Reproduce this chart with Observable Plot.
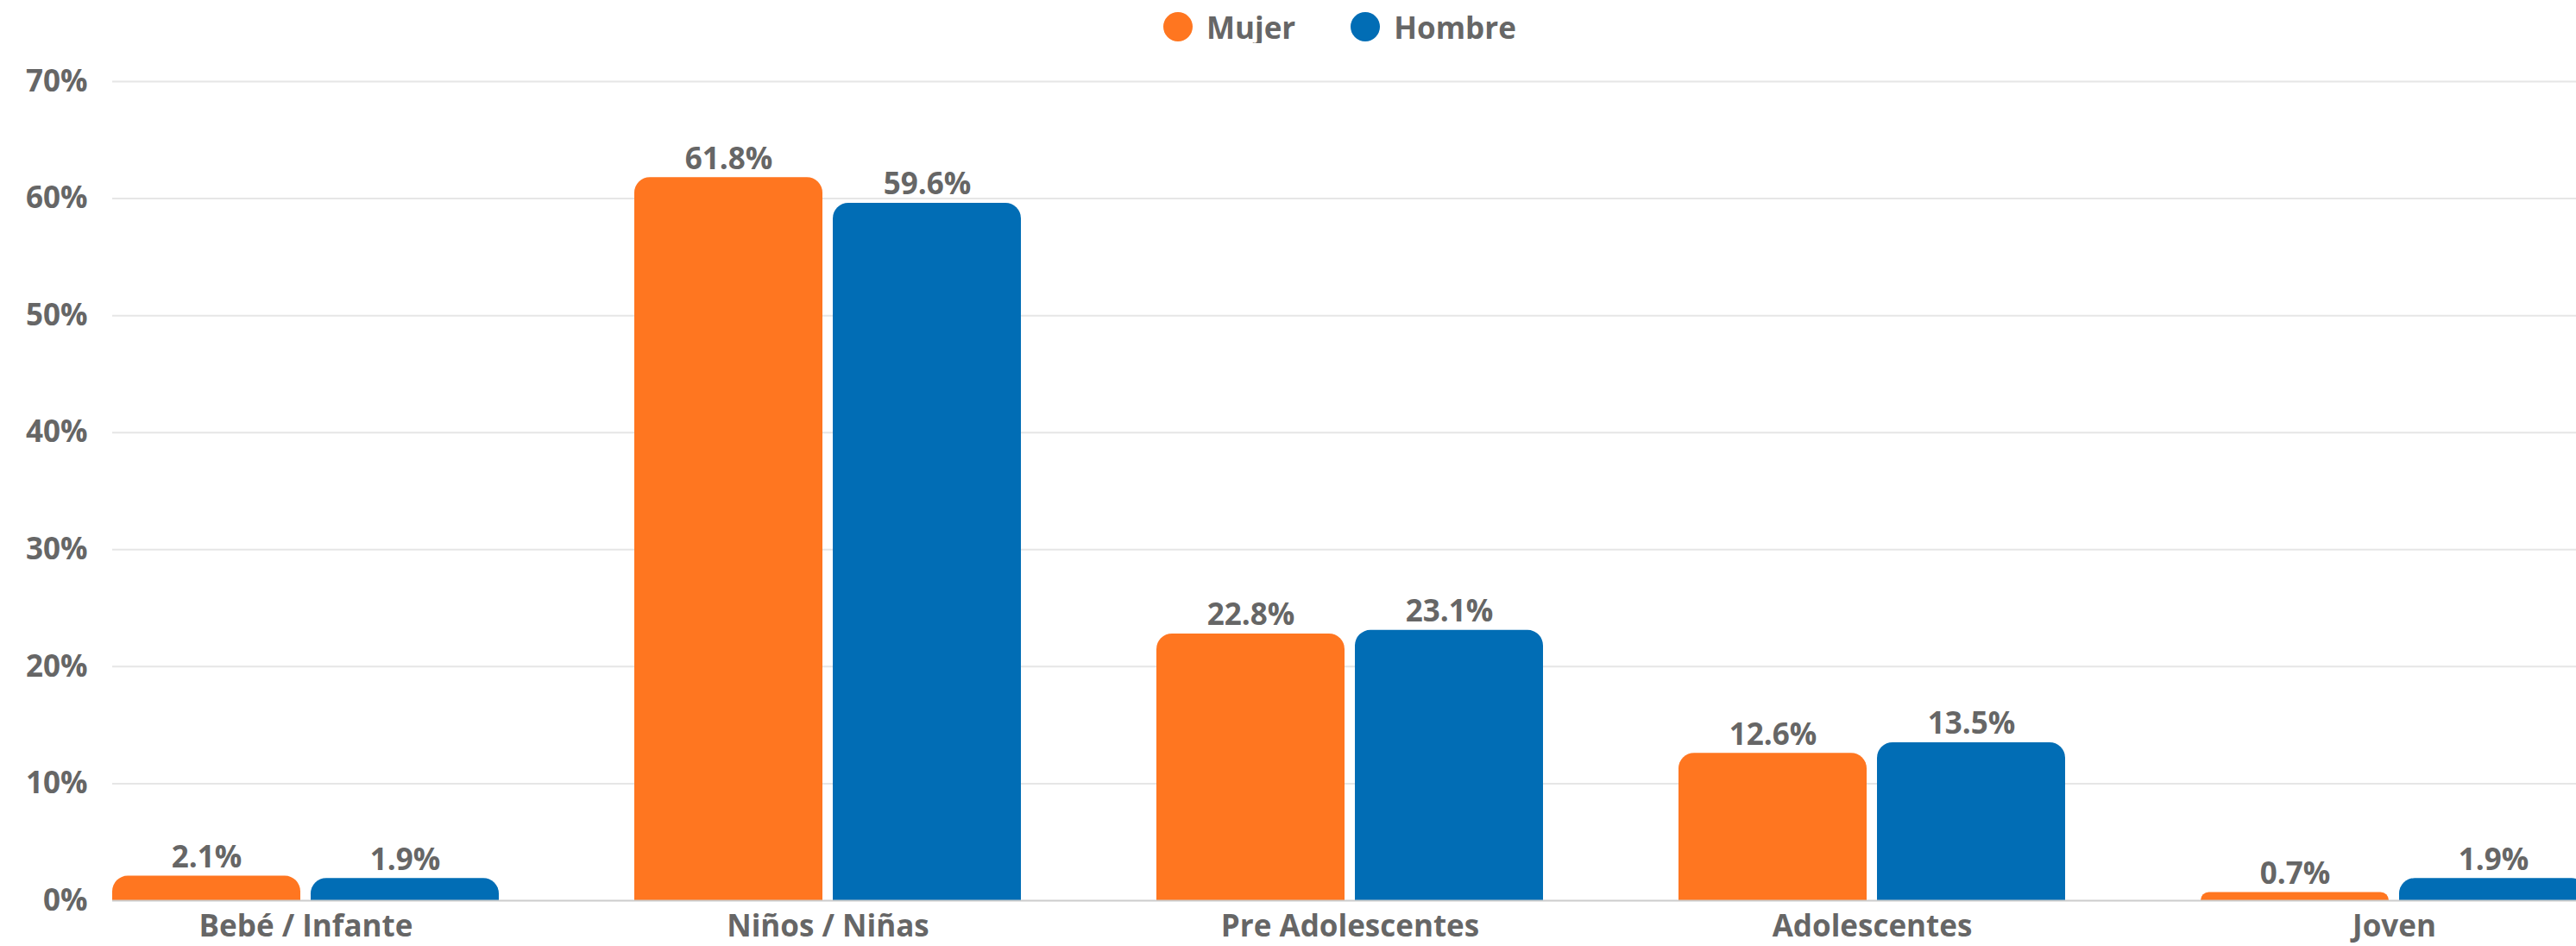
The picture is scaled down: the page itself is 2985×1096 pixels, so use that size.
<!DOCTYPE html>
<html><head><meta charset="utf-8">
<script src="https://cdn.jsdelivr.net/npm/d3@7"></script>
<script src="https://cdn.jsdelivr.net/npm/@observablehq/plot@0.6"></script>
<style>
html,body{margin:0;padding:0;background:#fff;overflow:hidden;}
body{width:2985px;height:1096px;position:relative;font-family:"Open Sans",sans-serif;}
#legend{position:absolute;top:13px;left:1348px;display:flex;align-items:center;height:36px;}
.item{display:flex;align-items:center;margin-right:64px;font-weight:700;font-size:35px;color:#666;}
.dot{width:34px;height:34px;border-radius:50%;margin-right:16px;}
#chart{position:absolute;top:50px;left:0;}
#chart svg{overflow:visible;}
</style></head>
<body><div id="legend"></div><div id="chart"></div>
<script>
const categories = ["Bebé / Infante", "Niños / Niñas", "Pre Adolescentes", "Adolescentes", "Joven"];
const series = ["Mujer", "Hombre"];
const mujer = [2.1, 61.8, 22.8, 12.6, 0.7];
const hombre = [1.9, 59.6, 23.1, 13.5, 1.9];
const colors = ["#FF7620", "#016DB5"];
const yTicks = [0, 10, 20, 30, 40, 50, 60, 70];

const mujerData = categories.map((c, i) => ({category: c, sex: series[0], value: mujer[i]}));
const hombreData = categories.map((c, i) => ({category: c, sex: series[1], value: hombre[i]}));

const legend = document.getElementById("legend");
series.forEach((s, i) => {
  const it = document.createElement("div");
  it.className = "item";
  const dot = document.createElement("div");
  dot.className = "dot";
  dot.style.background = colors[i];
  it.appendChild(dot);
  it.appendChild(document.createTextNode(s));
  legend.appendChild(it);
});

const barW = 218, half = 115;
const label = d => d.value.toFixed(1) + "%";
const plot = Plot.plot({
  width: 2985, height: 1046,
  marginLeft: 130, marginRight: 0, marginTop: 44, marginBottom: 53,
  style: {fontFamily: "Open Sans", fontWeight: 700, fontSize: "34px", color: "#666", background: "#fff", overflow: "visible"},
  x: {domain: categories, range: [130, 2998], paddingInner: 157 / 605, paddingOuter: 0, label: null},
  y: {domain: [0, 70], label: null},
  color: {domain: series, range: colors},
  marks: [
    Plot.ruleY(yTicks.slice(1), {stroke: "#e6e6e6", strokeWidth: 2}),
    Plot.barY(mujerData, {x: "category", y: "value", fill: "sex", insetRight: 448 - barW, ry1: 18}),
    Plot.barY(hombreData, {x: "category", y: "value", fill: "sex", insetLeft: 448 - barW, ry1: 18}),
    Plot.ruleY([0], {stroke: "#cccccc", strokeWidth: 2}),
    Plot.text(mujerData, {x: "category", y: "value", text: label, dx: -half, lineAnchor: "bottom", dy: -10, fill: "#666", fontSize: 35, fontWeight: 700}),
    Plot.text(hombreData, {x: "category", y: "value", text: label, dx: half, lineAnchor: "bottom", dy: -10, fill: "#666", fontSize: 35, fontWeight: 700}),
    Plot.axisY({ticks: yTicks, tickFormat: d => d + "%", tickSize: 0, tickPadding: 29, label: null, fontSize: 35, fill: "#666"}),
    Plot.axisX({tickSize: 0, tickPadding: 17, label: null, fontSize: 35, fill: "#666"})
  ]
});
document.getElementById("chart").appendChild(plot);
</script></body></html>
